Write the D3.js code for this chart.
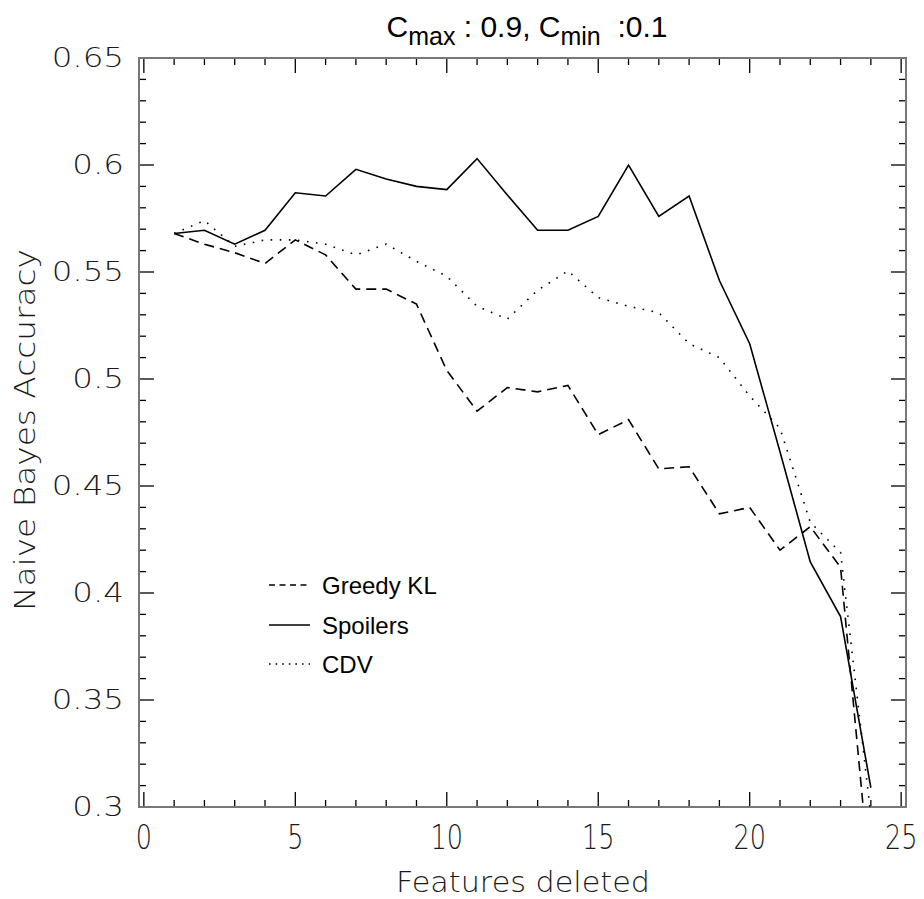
<!DOCTYPE html>
<html>
<head>
<meta charset="utf-8">
<script src="https://cdn.jsdelivr.net/npm/d3@7"></script>
<style>
  html, body { margin: 0; padding: 0; background: #fff; }
  svg { display: block; }
</style>
</head>
<body>
<svg id="chart" width="924" height="899"></svg>
<script>
// ---------- data ----------
const featuresDeleted = [1,2,3,4,5,6,7,8,9,10,11,12,13,14,15,16,17,18,19,20,21,22,23,24];
const greedyKL = [0.568,0.563,0.559,0.554,0.565,0.558,0.542,0.542,0.535,0.504,0.485,0.496,0.494,0.497,0.474,0.481,0.458,0.459,0.437,0.440,0.420,0.431,0.412,0.262];
const spoilers = [0.568,0.5695,0.563,0.5695,0.587,0.5855,0.598,0.5935,0.590,0.5885,0.603,0.586,0.5695,0.5695,0.576,0.600,0.576,0.5855,0.546,0.5165,0.466,0.4145,0.389,0.309];
const cdv = [0.568,0.574,0.562,0.565,0.565,0.563,0.558,0.563,0.555,0.548,0.534,0.528,0.5415,0.5505,0.538,0.534,0.531,0.5165,0.510,0.492,0.477,0.433,0.419,0.296];
const seriesNames = ["Greedy KL","Spoilers","CDV"];
const xMajorTicks = [0,5,10,15,20,25];
const xMinorTicks = d3.range(0,26,1);
const yMajorTicks = [0.3,0.35,0.4,0.45,0.5,0.55,0.6,0.65];
const yMinorTicks = d3.range(30,66,1).map(v => v/100);
const yTickLabels = ["0.3","0.35","0.4","0.45","0.5","0.55","0.6","0.65"];
const titleParts = ["C","max"," : 0.9, C","min","  :0.1"];
const xTitle = "Features deleted";
const yTitle = "Naive Bayes Accuracy";

// ---------- layout ----------
const svg = d3.select("#chart");
const L = 139, R = 906, T = 58, B = 807;
const x = d3.scaleLinear().domain([-0.16, 25.16]).range([L, R]);
const y = d3.scaleLinear().domain([0.3, 0.65]).range([B, T]);
const hershey = "'DejaVu Sans', sans-serif";
const labelColor = "#1a1a1a";

// clip
svg.append("defs").append("clipPath").attr("id","plotclip")
  .append("rect").attr("x",L).attr("y",T).attr("width",R-L).attr("height",B-T);

// ticks
const tk = svg.append("g").attr("stroke","#000").attr("stroke-width",1.3);
const MAJ = 15, MIN = 7;
xMinorTicks.forEach(v => {
  const len = xMajorTicks.includes(v) ? MAJ : MIN;
  tk.append("line").attr("x1",x(v)).attr("x2",x(v)).attr("y1",B).attr("y2",B-len);
  tk.append("line").attr("x1",x(v)).attr("x2",x(v)).attr("y1",T).attr("y2",T+len);
});
yMinorTicks.forEach(v => {
  const isMaj = yMajorTicks.some(m => Math.abs(m-v) < 1e-9);
  const len = isMaj ? MAJ : MIN;
  tk.append("line").attr("x1",L).attr("x2",L+len).attr("y1",y(v)).attr("y2",y(v));
  tk.append("line").attr("x1",R).attr("x2",R-len).attr("y1",y(v)).attr("y2",y(v));
});

// frame
svg.append("rect").attr("x",L).attr("y",T).attr("width",R-L).attr("height",B-T)
  .attr("fill","none").attr("stroke","#777").attr("stroke-width",2);

// y tick labels
yMajorTicks.forEach((v,i) => {
  svg.append("g").attr("transform",`translate(124,${y(v)}) scale(1.25,1)`)
    .append("text").attr("text-anchor","end").attr("dominant-baseline","central")
    .attr("font-family",hershey).attr("font-weight",200).attr("font-size",26)
    .attr("fill",labelColor).text(yTickLabels[i]);
});
// x tick labels
xMajorTicks.forEach(v => {
  svg.append("g").attr("transform",`translate(${x(v)},837) scale(0.75,1)`)
    .append("text").attr("text-anchor","middle").attr("dominant-baseline","central")
    .attr("font-family",hershey).attr("font-weight",200).attr("font-size",34)
    .attr("fill",labelColor).text(String(v));
});

// axis titles
svg.append("text").attr("x",523).attr("y",882).attr("text-anchor","middle")
  .attr("dominant-baseline","central").attr("font-family",hershey).attr("font-weight",200)
  .attr("font-size",28).attr("fill",labelColor)
  .attr("textLength",254).attr("lengthAdjust","spacingAndGlyphs").text(xTitle);
svg.append("text").attr("transform","translate(25,430) rotate(-90)")
  .attr("text-anchor","middle").attr("dominant-baseline","central")
  .attr("font-family",hershey).attr("font-weight",200).attr("font-size",28)
  .attr("fill",labelColor)
  .attr("textLength",362).attr("lengthAdjust","spacingAndGlyphs").text(yTitle);

// title
const title = svg.append("text").attr("x",527).attr("y",37).attr("text-anchor","middle")
  .attr("font-family","'Liberation Sans', Arial, sans-serif").attr("font-size",30)
  .attr("fill","#000").attr("xml:space","preserve").style("white-space","pre");
title.append("tspan").text(titleParts[0]);
title.append("tspan").attr("font-size",25).attr("dy",8).text(titleParts[1]);
title.append("tspan").attr("dy",-8).text(titleParts[2]);
title.append("tspan").attr("font-size",25).attr("dy",8).text(titleParts[3]);
title.append("tspan").attr("dy",-8).text(titleParts[4]);

// lines
const styles = [
  {data: greedyKL, dash: "10,6"},
  {data: spoilers, dash: null},
  {data: cdv, dash: "1.6,7.5"}
];
const line = d3.line().x(d => x(d[0])).y(d => y(d[1]));
const plot = svg.append("g").attr("clip-path","url(#plotclip)");
styles.forEach(s => {
  plot.append("path").datum(featuresDeleted.map((f,i) => [f, s.data[i]]))
    .attr("d", line).attr("fill","none").attr("stroke","#000").attr("stroke-width",1.6)
    .attr("stroke-dasharray", s.dash);
});

// legend
const legY = [585, 625, 664];
styles.forEach((s,i) => {
  svg.append("line").attr("x1",269).attr("x2",310).attr("y1",legY[i]).attr("y2",legY[i])
    .attr("stroke","#000").attr("stroke-width",1.6).attr("stroke-dasharray", s.dash ? (i===0 ? "6,4.5" : "1.6,5") : null);
  svg.append("text").attr("x",322).attr("y",legY[i]).attr("dominant-baseline","central")
    .attr("font-family","'Liberation Sans', Arial, sans-serif").attr("font-size",24)
    .attr("fill","#000").text(seriesNames[i]);
});
</script>
</body>
</html>
